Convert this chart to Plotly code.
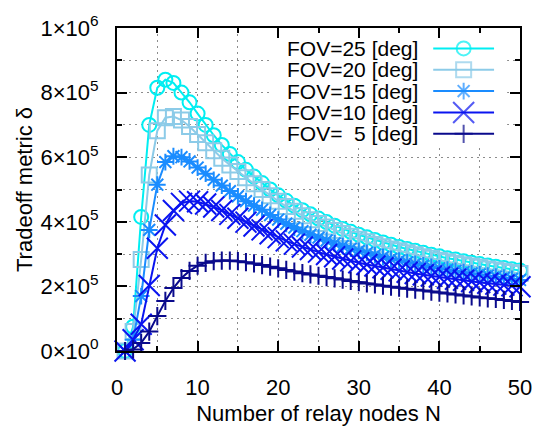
import plotly.graph_objects as go

N = list(range(1, 51))

fov25 = [0.0, 0.075, 0.415, 0.700, 0.815, 0.840, 0.830, 0.800, 0.770, 0.735,
         0.700, 0.668, 0.638, 0.610, 0.585, 0.561, 0.540, 0.520, 0.500, 0.482,
         0.465, 0.450, 0.436, 0.423, 0.410, 0.399, 0.388, 0.378, 0.369, 0.360,
         0.352, 0.344, 0.336, 0.329, 0.322, 0.316, 0.310, 0.304, 0.298, 0.293,
         0.287, 0.283, 0.278, 0.273, 0.269, 0.265, 0.261, 0.257, 0.253, 0.249]
fov20 = [0.0, 0.060, 0.283, 0.545, 0.682, 0.722, 0.726, 0.715, 0.695, 0.670,
         0.645, 0.620, 0.597, 0.576, 0.556, 0.536, 0.518, 0.500, 0.481, 0.464,
         0.447, 0.433, 0.419, 0.406, 0.395, 0.384, 0.373, 0.364, 0.355, 0.346,
         0.338, 0.330, 0.323, 0.316, 0.310, 0.304, 0.298, 0.292, 0.287, 0.281,
         0.276, 0.272, 0.267, 0.263, 0.259, 0.254, 0.251, 0.247, 0.243, 0.240]
fov15 = [0.0, 0.035, 0.170, 0.375, 0.515, 0.585, 0.603, 0.600, 0.587, 0.568,
         0.549, 0.530, 0.512, 0.495, 0.479, 0.464, 0.450, 0.437, 0.421, 0.407,
         0.394, 0.382, 0.371, 0.360, 0.351, 0.342, 0.333, 0.325, 0.317, 0.310,
         0.304, 0.297, 0.291, 0.285, 0.280, 0.275, 0.270, 0.265, 0.260, 0.256,
         0.252, 0.248, 0.244, 0.240, 0.237, 0.233, 0.230, 0.227, 0.223, 0.220]
fov10 = [0.0, 0.035, 0.083, 0.203, 0.318, 0.390, 0.435, 0.457, 0.464, 0.462,
         0.455, 0.446, 0.435, 0.423, 0.411, 0.399, 0.387, 0.375, 0.363, 0.351,
         0.341, 0.331, 0.322, 0.314, 0.306, 0.299, 0.292, 0.285, 0.279, 0.273,
         0.268, 0.263, 0.258, 0.253, 0.248, 0.244, 0.240, 0.236, 0.232, 0.229,
         0.225, 0.222, 0.219, 0.215, 0.212, 0.210, 0.207, 0.204, 0.202, 0.199]
fov5 = [0.0, 0.005, 0.025, 0.060, 0.108, 0.155, 0.195, 0.226, 0.248, 0.264,
        0.273, 0.278, 0.280, 0.280, 0.278, 0.275, 0.271, 0.266, 0.261, 0.256,
        0.251, 0.246, 0.241, 0.237, 0.233, 0.229, 0.225, 0.221, 0.217, 0.213,
        0.209, 0.206, 0.202, 0.199, 0.196, 0.193, 0.190, 0.187, 0.184, 0.181,
        0.178, 0.175, 0.172, 0.169, 0.166, 0.163, 0.161, 0.158, 0.155, 0.152]

labels = ["FOV=25 [deg]", "FOV=20 [deg]", "FOV=15 [deg]", "FOV=10 [deg]", "FOV=\u00a0\u00a05 [deg]"]
colors = ["#00eef2", "#8ccbe8", "#1a8cff", "#0a14f0", "#0a0a8c"]
symbols = ["circle-open", "square-open", "asterisk-open", "x-thin-open", "cross-thin-open"]
sizes = [14, 15, 14, 21, 13]
series = [fov25, fov20, fov15, fov10, fov5]

yticks = [0, 2e5, 4e5, 6e5, 8e5, 1e6]
yticktext = ["0\u00d710<sup>0</sup>", "2\u00d710<sup>5</sup>", "4\u00d710<sup>5</sup>",
             "6\u00d710<sup>5</sup>", "8\u00d710<sup>5</sup>", "1\u00d710<sup>6</sup>"]

FONT = "Liberation Sans, Arial, Helvetica, sans-serif"
GRID = "#8c8c8c"
DOT = "2px,4px"

fig = go.Figure()
for s, lab, c, sym, sz in zip(series, labels, colors, symbols, sizes):
    fig.add_trace(go.Scatter(
        x=N, y=[v * 1e6 for v in s], mode="lines+markers", name=lab,
        line=dict(color=c, width=2),
        marker=dict(symbol=sym, size=sz, color=c, line=dict(color=c, width=2)),
        cliponaxis=False, showlegend=False))

# opaque key box (grid hidden behind the key, as in the original)
fig.add_shape(type="rect", xref="x", yref="y", x0=19.2, x1=48.4, y0=638000, y1=997000,
              fillcolor="white", line=dict(width=0), layer="between")

# manual key (gnuplot style: text left, sample right), in pixel space overlay
row_y = [38, 61, 84, 107, 130]
for lab, c, sym, sz, ry in zip(labels, colors, symbols, sizes, row_y):
    fig.add_trace(go.Scatter(
        x=[434, 464.5, 495], y=[ry, ry, ry], xaxis="x2", yaxis="y2",
        mode="lines+markers", line=dict(color=c, width=2),
        marker=dict(symbol=sym, size=[0, sz, 0], color=c, line=dict(color=c, width=2)),
        showlegend=False, hoverinfo="skip", cliponaxis=False))
    fig.add_annotation(x=420, y=ry, xref="x2", yref="y2", text=lab, showarrow=False,
                       xanchor="right", yanchor="middle", borderpad=0,
                       font=dict(family=FONT, size=21, color="black"))

axis_common = dict(showline=True, linecolor="black", linewidth=2, mirror="allticks",
                   ticks="inside", tickcolor="black", tickwidth=2, ticklen=10,
                   showgrid=True, gridcolor=GRID, griddash=DOT, gridwidth=1,
                   zeroline=False, tickfont=dict(family=FONT, size=22, color="black"))

minor_common = dict(ticks="inside", ticklen=5, tickwidth=2, tickcolor="black",
                    showgrid=True, gridcolor=GRID, griddash=DOT, gridwidth=1)

fig.update_layout(
    width=544, height=434, margin=dict(l=117, r=23, t=16, b=70),
    paper_bgcolor="white", plot_bgcolor="white",
    font=dict(family=FONT, size=22, color="black"),
    xaxis=dict(range=[0, 50], dtick=10, tick0=0, ticklabelstandoff=16,
               minor=dict(dtick=5, **minor_common),
               title=dict(text="Number of relay nodes N", standoff=6,
                          font=dict(family=FONT, size=22, color="black")),
               **axis_common),
    yaxis=dict(range=[0, 1e6], tickvals=yticks, ticktext=yticktext, ticklabelstandoff=12,
               minor=dict(dtick=1e5, **minor_common),
               title=dict(text="Tradeoff metric \u03b4", standoff=2,
                          font=dict(family=FONT, size=22, color="black")),
               **axis_common),
    xaxis2=dict(range=[117, 521], overlaying="x", visible=False, showticklabels=False,
                fixedrange=True),
    yaxis2=dict(range=[364, 16], overlaying="y", visible=False, showticklabels=False,
                fixedrange=True),
)

fig.write_html("out.html")
